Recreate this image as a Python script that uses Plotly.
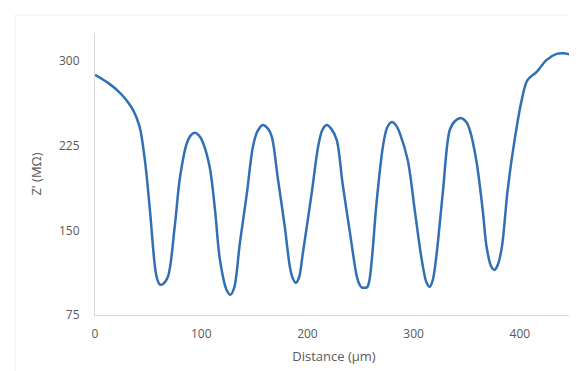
import plotly.graph_objects as go

distance = [0, 12, 23.5, 30, 35.7, 42, 47, 51.7, 56.4, 58.5, 61, 64, 68.7, 75, 80, 86.5, 90, 94,
            98, 101.6, 108, 113, 117.6, 124, 127.5, 131, 136.4, 143, 148.6, 153, 158, 163, 166.5,
            172, 178.7, 183.4, 186, 189, 192, 195.7, 204, 210, 214, 218, 222.5, 227.6, 233, 240,
            246.5, 249, 251, 256, 258, 260.6, 265, 271, 275, 279.4, 283.5, 287, 294.5, 301,
            307.6, 312, 315, 318, 321.7, 327.4, 334, 339, 345, 349.5, 352.8, 359, 365, 368.7,
            373, 376, 379, 383, 388.5, 395, 401.7, 407, 415.8, 425, 434.6, 441, 448.7]
impedance = [288, 281, 272, 265, 257, 242, 212, 168, 118, 107, 102, 102.5, 109, 153, 197, 227.5, 234, 236.5,
             234, 228, 206, 168, 124, 97, 93, 99, 139, 183, 224, 238, 243.5, 240, 233,
             197, 153, 118, 108, 103.5, 108, 130, 183, 224, 239, 243.5, 240, 230, 192, 148,
             109, 102, 99.5, 99.5, 104, 124, 174, 224, 241, 246, 243, 236, 212, 168,
             124, 104, 100, 106, 130, 183, 239, 247, 249.5, 246, 239, 212, 168, 135,
             118, 115, 119, 135, 186, 230, 265.5, 283, 290.5, 301, 306.5, 307, 305.5]

x_ticks = [0, 100, 200, 300, 400]
y_ticks = [75, 150, 225, 300]

fig = go.Figure()
fig.add_trace(go.Scatter(
    x=distance, y=impedance, mode="lines",
    line=dict(color="#3070b3", width=2.5, shape="spline", smoothing=0.9),
    showlegend=False, hoverinfo="skip"))

font = dict(family="Open Sans, Liberation Sans, sans-serif", size=12, color="#595959")

fig.update_layout(
    width=569, height=363,
    margin=dict(l=87, r=4, t=25, b=56),
    paper_bgcolor="white", plot_bgcolor="white",
    font=font,
    xaxis=dict(range=[0, 450], tickvals=x_ticks, showgrid=False, zeroline=False,
               showline=True, linecolor="#d9d9d9", linewidth=1, ticks="",
               ticklabelstandoff=8,
               title=dict(text="Distance (µm)", font=dict(size=13, color="#595959"), standoff=10)),
    yaxis=dict(range=[75, 325], tickvals=y_ticks, showgrid=False, zeroline=False,
               showline=True, linecolor="#d9d9d9", linewidth=1, ticks="",
               ticklabelstandoff=12,
               title=dict(text="Z' (MΩ)", font=dict(size=13, color="#595959"), standoff=14)),
)

# faint chart-area border (top and left edges visible in the reference)
fig.add_shape(type="line", xref="paper", yref="paper",
              x0=-80/478, x1=1.0, y0=300/282, y1=300/282,
              line=dict(color="#f0f0f0", width=1))
fig.add_shape(type="line", xref="paper", yref="paper",
              x0=-80/478, x1=-80/478, y0=-56/282, y1=300/282,
              line=dict(color="#f0f0f0", width=1))

fig.write_html("out.html")
